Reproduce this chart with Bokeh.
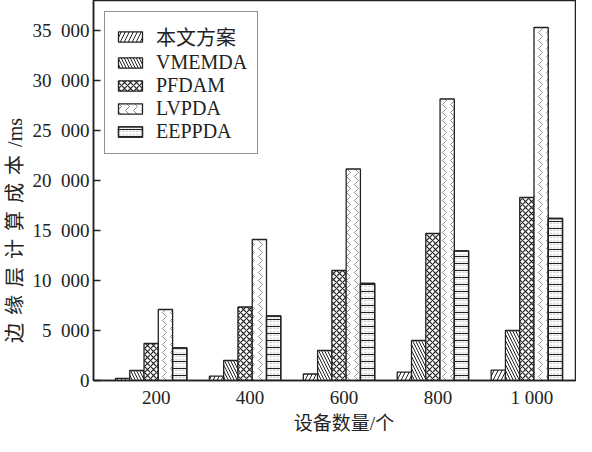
from bokeh.plotting import figure
from bokeh.models import Legend, LegendItem, FixedTicker, Range1d
from bokeh.embed import file_html
from bokeh.resources import INLINE

devices = [200, 400, 600, 800, 1000]
device_labels = ["200", "400", "600", "800", "1 000"]
series_names = ["本文方案", "VMEMDA", "PFDAM", "LVPDA", "EEPPDA"]
ours = [210, 430, 650, 840, 1040]
vmemda = [1000, 2000, 3000, 4000, 5000]
pfdam = [3700, 7350, 11000, 14700, 18300]
lvpda = [7100, 14100, 21150, 28150, 35300]
eeppda = [3250, 6450, 9700, 12950, 16200]
y_ticks = [0, 5000, 10000, 15000, 20000, 25000, 30000, 35000]
y_tick_labels = ["0", "5\u2007000", "10\u2007000", "15\u2007000", "20\u2007000",
                 "25\u2007000", "30\u2007000", "35\u2007000"]
y_title_chars = ["边", "缘", "层", "计", "算", "成", "本", "/ms"]
x_title = "设备数量/个"

GAP = "\u2009\u2009"
y_title = GAP.join(y_title_chars) + "\u2002" * 8
x_title_shifted = "\u2002\u2002" + x_title

FONT = "'Liberation Serif', 'Noto Sans CJK SC'"
INK = "#222222"

p = figure(width=576, height=436, output_backend="svg", toolbar_location=None,
           x_range=Range1d(66.6, 1093), y_range=Range1d(0, 38000),
           min_border_left=92, min_border_right=1, min_border_top=0, min_border_bottom=0)
p.grid.visible = False
p.background_fill_color = "white"
p.border_fill_color = "white"
p.outline_line_color = INK
p.outline_line_width = 1.5

bw = 30.4
center_shift = -10.6
styles = [
    dict(hatch_pattern="/", hatch_scale=8, hatch_weight=1.0, hatch_color=INK),
    dict(hatch_pattern="\\", hatch_scale=6, hatch_weight=1.0, hatch_color=INK),
    dict(hatch_pattern="x", hatch_scale=6, hatch_weight=1.2, hatch_color=INK),
    dict(hatch_pattern=">", hatch_scale=8, hatch_weight=0.6, hatch_color="#444444"),
    dict(hatch_pattern="-", hatch_scale=7, hatch_weight=1.0, hatch_color=INK),
]
all_vals = [ours, vmemda, pfdam, lvpda, eeppda]
items = []
for k, (name, vals, st) in enumerate(zip(series_names, all_vals, styles)):
    xs = [d + center_shift + (k - 2) * bw for d in devices]
    rs = []
    r = p.vbar(x=xs, top=vals, width=bw, fill_color="white", line_color=INK,
               line_width=1.3, **st)
    rs.append(r)
    if k == 4:
        r2 = p.vbar(x=xs, top=vals, width=bw, fill_alpha=0, line_color=INK,
                    line_width=1.3, hatch_color="#999999", hatch_weight=0.6,
                    hatch_pattern='"', hatch_scale=3.5)
        rs.append(r2)
    items.append(LegendItem(label=name, renderers=rs))

legend = Legend(items=items, location="top_left")
legend.label_text_font = FONT
legend.label_text_font_size = "20px"
legend.label_text_color = INK
legend.glyph_width = 30
legend.glyph_height = 13
legend.label_standoff = 11
legend.spacing = 0
legend.padding = 10
legend.margin = 11
legend.border_line_color = INK
legend.border_line_width = 1.3
legend.label_height = 22
p.add_layout(legend)

p.yaxis.ticker = FixedTicker(ticks=y_ticks)
p.yaxis.major_label_overrides = dict(zip(y_ticks, y_tick_labels))
p.yaxis.major_tick_in = 7
p.yaxis.major_tick_out = 0
p.yaxis.minor_tick_line_color = None
p.yaxis.axis_label = y_title

p.xaxis.ticker = FixedTicker(ticks=devices)
p.xaxis.major_label_overrides = dict(zip(devices, device_labels))
p.xaxis.major_tick_in = 0
p.xaxis.major_tick_out = 0
p.xaxis.minor_tick_line_color = None
p.xaxis.axis_label = x_title_shifted

for ax in (p.xaxis, p.yaxis):
    ax.axis_line_color = INK
    ax.axis_line_width = 1.5
    ax.major_tick_line_color = INK
    ax.major_tick_line_width = 1.5
    ax.major_label_text_font = FONT
    ax.major_label_text_font_size = "19px"
    ax.major_label_text_color = INK
    ax.axis_label_text_font = FONT
    ax.axis_label_text_font_size = "19px"
    ax.axis_label_text_font_style = "normal"
    ax.axis_label_text_color = INK
p.yaxis.axis_label_text_font_size = "20px"
p.yaxis.major_label_standoff = 4
p.xaxis.major_label_standoff = 6
p.yaxis.axis_label_standoff = 4
p.xaxis.axis_label_standoff = 2

open("out.html", "w").write(file_html(p, INLINE))
